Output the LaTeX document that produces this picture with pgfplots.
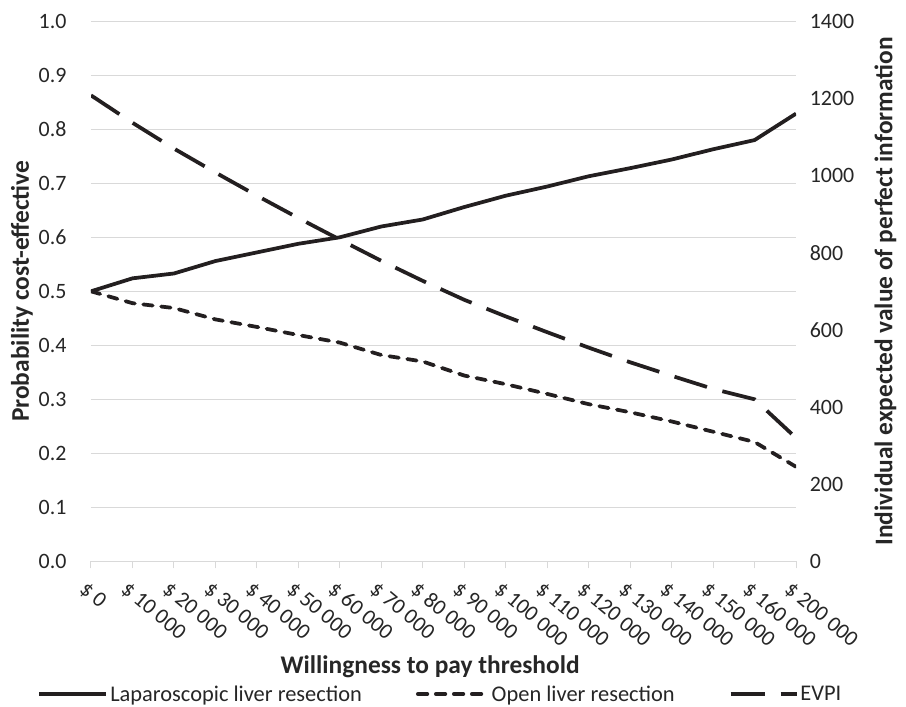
\documentclass[border=0pt]{standalone}
\usepackage{pgfplots}
\pgfplotsset{compat=1.18}
\usepackage{fontspec}
\setmainfont{Carlito}
\definecolor{ln}{RGB}{35,31,32}
\definecolor{tx}{RGB}{38,38,38}
\definecolor{gr}{RGB}{217,217,217}
\pgfplotsset{
  legA/.style={legend image code/.code={\draw[##1] (0bp,0bp) -- (67bp,0bp);}},
  legB/.style={legend image code/.code={\draw[##1] (0bp,0bp) -- (70bp,0bp);}},
  legC/.style={legend image code/.code={\draw[##1] (0bp,0bp) -- (66bp,0bp);}},
}
\begin{document}
\begin{tikzpicture}
\path (-91bp,-143.7bp) rectangle (815bp,561.3bp);
\pgfplotsset{
  common/.style={
    at={(0,0)}, anchor=south west,
    scale only axis, width=705bp, height=540bp,
    xmin=0, xmax=17,
    xtick={0,...,17},
    /pgf/number format/assume math mode=true,
    tick label style={font=\fontsize{22}{26}\selectfont, text=tx},
    label style={font=\bfseries\fontsize{25.5}{30}\selectfont, text=tx},
    major tick length=7bp,
    tick align=outside,
  }
}
\begin{axis}[common,
  axis x line*=bottom, axis y line*=left,
  x axis line style={-, gr, line width=1bp},
  y axis line style={draw=none},
  ytick style={draw=none},
  xtick style={gr, line width=1bp},
  ymin=0, ymax=1,
  ytick={0,0.1,...,1.0},
  yticklabel style={/pgf/number format/fixed, /pgf/number format/fixed zerofill, /pgf/number format/precision=1, xshift=-14bp},
  ymajorgrids, grid style={gr, line width=1bp},
  xticklabels={\$ 0,\$ 10 000,\$ 20 000,\$ 30 000,\$ 40 000,\$ 50 000,\$ 60 000,\$ 70 000,\$ 80 000,\$ 90 000,\$ 100 000,\$ 110 000,\$ 120 000,\$ 130 000,\$ 140 000,\$ 150 000,\$ 160 000,\$ 200 000},
  xticklabel style={rotate=-40, anchor=north west, inner sep=0pt, xshift=5bp, yshift=-11bp},
  xlabel={Willingness to pay threshold},
  xlabel style={at={(axis description cs:0.481,-0.196)}, anchor=center},
  ylabel={Probability cost-effective},
  ylabel style={at={(axis description cs:-0.098,0.5)}, anchor=center},
  legend columns=3,
  legend style={draw=none, fill=none, at={(axis description cs:0.4957,-0.2457)}, anchor=center,
    font=\fontsize{22.5}{26}\selectfont, text=tx,
    /tikz/every even column/.append style={column sep=52bp},
    nodes={inner sep=2bp}},
]
\addplot[ln, line width=3.75bp, legA]
  coordinates {(0,0.500)(1,0.524)(2,0.533)(3,0.556)(4,0.572)(5,0.588)(6,0.600)(7,0.620)(8,0.633)(9,0.656)(10,0.677)(11,0.694)(12,0.713)(13,0.728)(14,0.744)(15,0.763)(16,0.780)(17,0.829)};
\addlegendentry{Laparoscopic liver resection}
\addplot[ln, line width=3.75bp, line cap=round, dash pattern=on 9.5bp off 8.5bp, legB]
  coordinates {(0,0.500)(1,0.478)(2,0.469)(3,0.448)(4,0.434)(5,0.419)(6,0.405)(7,0.382)(8,0.370)(9,0.344)(10,0.328)(11,0.310)(12,0.291)(13,0.276)(14,0.259)(15,0.240)(16,0.221)(17,0.175)};
\addlegendentry{Open liver resection}
\addlegendimage{ln, line width=3.75bp, dash pattern=on 34bp off 16bp, legC}
\addlegendentry{EVPI}
\end{axis}
\begin{axis}[common,
  axis y line*=right, axis x line=none,
  y axis line style={draw=none},
  ytick style={draw=none},
  ymin=0, ymax=1400,
  ytick={0,200,...,1400},
  yticklabel style={/pgf/number format/1000 sep={}, xshift=3.3bp},
  xticklabels={},
  ylabel={Individual expected value of perfect information},
  ylabel style={at={(axis description cs:1.127,0.5)}, anchor=center},
]
\addplot[ln, line width=3.75bp, dash pattern=on 34bp off 16bp]
  coordinates {(0,1208)(1,1137)(2,1070)(3,1008)(4,948)(5,890)(6,834)(7,779)(8,727)(9,678)(10,635)(11,594)(12,554)(13,516)(14,481)(15,447)(16,420)(17,320)};
\end{axis}
\end{tikzpicture}
\end{document}
